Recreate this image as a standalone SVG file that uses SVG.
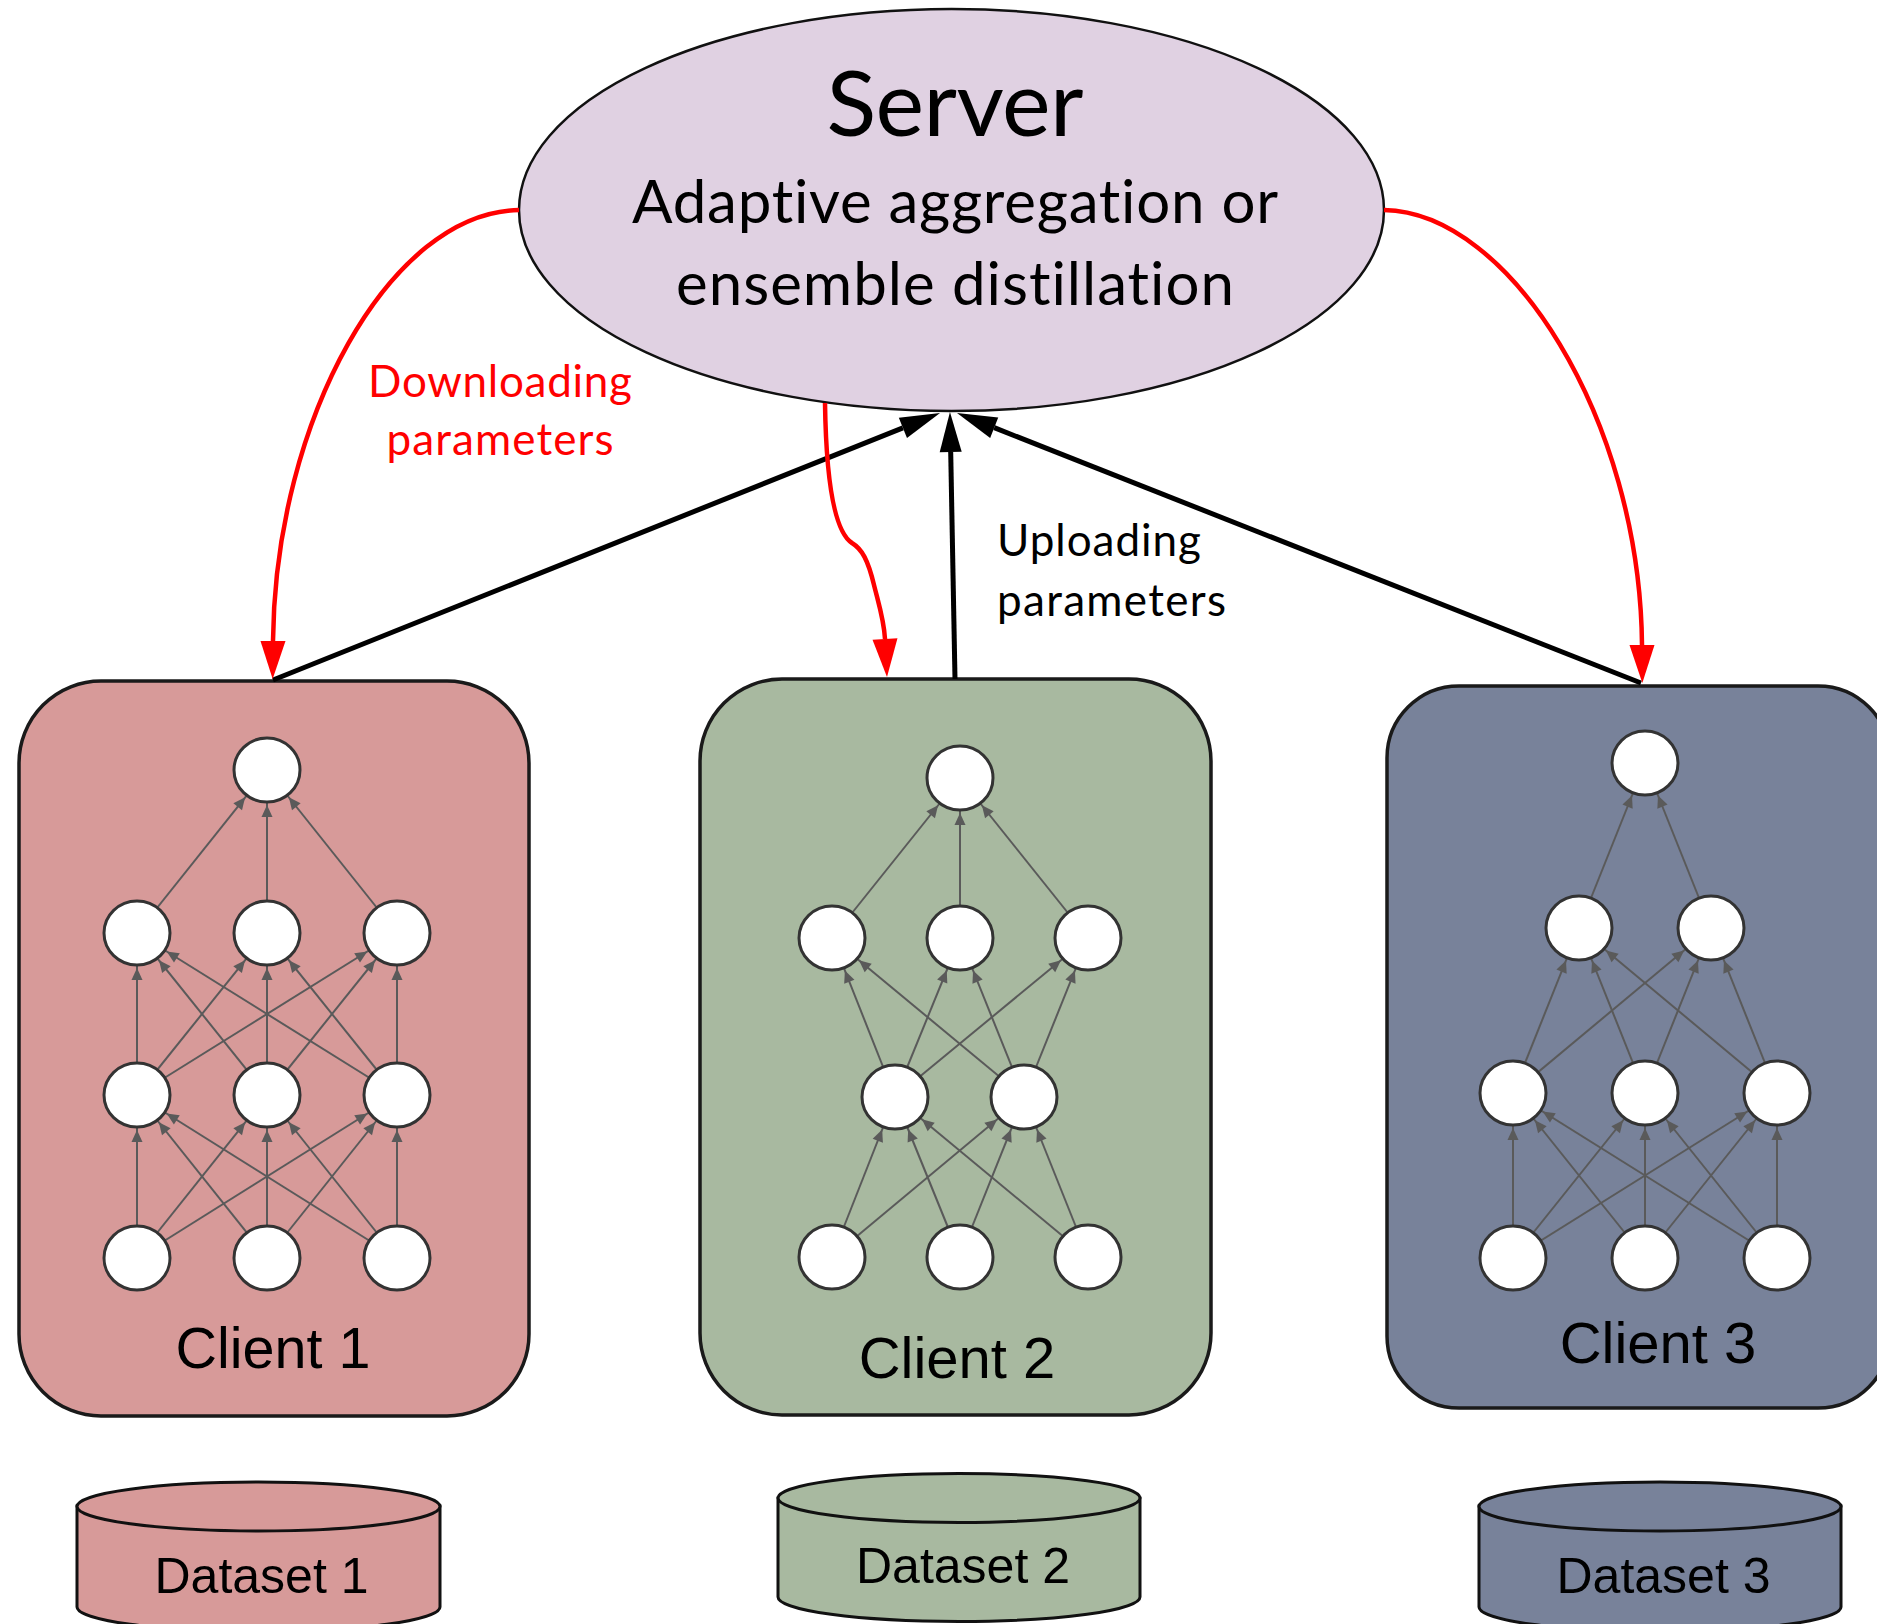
<svg xmlns="http://www.w3.org/2000/svg" width="1877" height="1624" viewBox="0 0 1877 1624">
<style>
.cal{font-family:Lato,"Open Sans","Liberation Sans",sans-serif;font-variant-ligatures:none;font-feature-settings:"liga" 0,"dlig" 0}
.ar{font-family:"Liberation Sans",Arial,sans-serif}
.box{stroke:#1a1a1a;stroke-width:3.5}
.n{fill:#fff;stroke:#333;stroke-width:3}
.e{stroke:#5a5a5a;stroke-width:2;marker-end:url(#sa)}
.cyl{stroke:#111;stroke-width:3}
.c1{fill:#D79A99}.c2{fill:#A8B9A0}.c3{fill:#78829A}
.red{fill:none;stroke:#ff0000;stroke-width:4.5;marker-end:url(#ra)}
.blk{fill:none;stroke:#000;stroke-width:5;marker-end:url(#ba)}
</style>
<defs>
<marker id="sa" markerUnits="userSpaceOnUse" markerWidth="60" markerHeight="20" viewBox="-50 -10 60 20" refX="0" refY="0" orient="auto">
<path d="M-35,0 L-47,-5.5 L-47,5.5 Z" fill="#5a5a5a"/>
</marker>
<marker id="ra" markerUnits="userSpaceOnUse" markerWidth="45" markerHeight="30" viewBox="-2 -15 45 30" refX="0" refY="0" orient="auto">
<path d="M0,-12.5 L38,0 L0,12.5 Z" fill="#ff0000"/>
</marker>
<marker id="ba" markerUnits="userSpaceOnUse" markerWidth="45" markerHeight="30" viewBox="-2 -15 45 30" refX="0" refY="0" orient="auto">
<path d="M0,-11 L40,0 L0,11 Z" fill="#000"/>
</marker>
</defs>
<rect width="1877" height="1624" fill="#fff"/>

<g id="server">
<ellipse cx="951.5" cy="210" rx="432.5" ry="201" fill="#E0D1E2" stroke="#111" stroke-width="2.5"/>
<text class="cal" x="955" y="136" font-size="92" text-anchor="middle" textLength="257" lengthAdjust="spacing">Server</text>
<text class="cal" x="955" y="223" font-size="60" text-anchor="middle" textLength="646" lengthAdjust="spacing">Adaptive aggregation or</text>
<text class="cal" x="955" y="305" font-size="60" text-anchor="middle" textLength="558" lengthAdjust="spacing">ensemble distillation</text>
</g>

<g id="client1">
<rect class="box c1" x="19" y="681" width="510" height="735" rx="82" ry="82"/>
<line class="e" x1="137" y1="1258" x2="137" y2="1095"/>
<line class="e" x1="137" y1="1258" x2="267" y2="1095"/>
<line class="e" x1="137" y1="1258" x2="397" y2="1095"/>
<line class="e" x1="267" y1="1258" x2="137" y2="1095"/>
<line class="e" x1="267" y1="1258" x2="267" y2="1095"/>
<line class="e" x1="267" y1="1258" x2="397" y2="1095"/>
<line class="e" x1="397" y1="1258" x2="137" y2="1095"/>
<line class="e" x1="397" y1="1258" x2="267" y2="1095"/>
<line class="e" x1="397" y1="1258" x2="397" y2="1095"/>
<line class="e" x1="137" y1="1095" x2="137" y2="933"/>
<line class="e" x1="137" y1="1095" x2="267" y2="933"/>
<line class="e" x1="137" y1="1095" x2="397" y2="933"/>
<line class="e" x1="267" y1="1095" x2="137" y2="933"/>
<line class="e" x1="267" y1="1095" x2="267" y2="933"/>
<line class="e" x1="267" y1="1095" x2="397" y2="933"/>
<line class="e" x1="397" y1="1095" x2="137" y2="933"/>
<line class="e" x1="397" y1="1095" x2="267" y2="933"/>
<line class="e" x1="397" y1="1095" x2="397" y2="933"/>
<line class="e" x1="137" y1="933" x2="267" y2="770"/>
<line class="e" x1="267" y1="933" x2="267" y2="770"/>
<line class="e" x1="397" y1="933" x2="267" y2="770"/>
<ellipse class="n" cx="267" cy="770" rx="33" ry="32"/>
<ellipse class="n" cx="137" cy="933" rx="33" ry="32"/>
<ellipse class="n" cx="267" cy="933" rx="33" ry="32"/>
<ellipse class="n" cx="397" cy="933" rx="33" ry="32"/>
<ellipse class="n" cx="137" cy="1095" rx="33" ry="32"/>
<ellipse class="n" cx="267" cy="1095" rx="33" ry="32"/>
<ellipse class="n" cx="397" cy="1095" rx="33" ry="32"/>
<ellipse class="n" cx="137" cy="1258" rx="33" ry="32"/>
<ellipse class="n" cx="267" cy="1258" rx="33" ry="32"/>
<ellipse class="n" cx="397" cy="1258" rx="33" ry="32"/>
<text class="ar" x="273" y="1368" font-size="57.5" text-anchor="middle">Client 1</text>
</g>

<g id="client2">
<rect class="box c2" x="700" y="679" width="511" height="736" rx="82" ry="82"/>
<line class="e" x1="832" y1="1257" x2="895" y2="1097"/>
<line class="e" x1="832" y1="1257" x2="1024" y2="1097"/>
<line class="e" x1="960" y1="1257" x2="895" y2="1097"/>
<line class="e" x1="960" y1="1257" x2="1024" y2="1097"/>
<line class="e" x1="1088" y1="1257" x2="895" y2="1097"/>
<line class="e" x1="1088" y1="1257" x2="1024" y2="1097"/>
<line class="e" x1="895" y1="1097" x2="832" y2="938"/>
<line class="e" x1="895" y1="1097" x2="960" y2="938"/>
<line class="e" x1="895" y1="1097" x2="1088" y2="938"/>
<line class="e" x1="1024" y1="1097" x2="832" y2="938"/>
<line class="e" x1="1024" y1="1097" x2="960" y2="938"/>
<line class="e" x1="1024" y1="1097" x2="1088" y2="938"/>
<line class="e" x1="832" y1="938" x2="960" y2="778"/>
<line class="e" x1="960" y1="938" x2="960" y2="778"/>
<line class="e" x1="1088" y1="938" x2="960" y2="778"/>
<ellipse class="n" cx="960" cy="778" rx="33" ry="32"/>
<ellipse class="n" cx="832" cy="938" rx="33" ry="32"/>
<ellipse class="n" cx="960" cy="938" rx="33" ry="32"/>
<ellipse class="n" cx="1088" cy="938" rx="33" ry="32"/>
<ellipse class="n" cx="895" cy="1097" rx="33" ry="32"/>
<ellipse class="n" cx="1024" cy="1097" rx="33" ry="32"/>
<ellipse class="n" cx="832" cy="1257" rx="33" ry="32"/>
<ellipse class="n" cx="960" cy="1257" rx="33" ry="32"/>
<ellipse class="n" cx="1088" cy="1257" rx="33" ry="32"/>
<text class="ar" x="957" y="1378" font-size="58" text-anchor="middle">Client 2</text>
</g>

<g id="client3">
<rect class="box c3" x="1387" y="686" width="503" height="722" rx="72" ry="72"/>
<line class="e" x1="1513" y1="1258" x2="1513" y2="1093"/>
<line class="e" x1="1513" y1="1258" x2="1645" y2="1093"/>
<line class="e" x1="1513" y1="1258" x2="1777" y2="1093"/>
<line class="e" x1="1645" y1="1258" x2="1513" y2="1093"/>
<line class="e" x1="1645" y1="1258" x2="1645" y2="1093"/>
<line class="e" x1="1645" y1="1258" x2="1777" y2="1093"/>
<line class="e" x1="1777" y1="1258" x2="1513" y2="1093"/>
<line class="e" x1="1777" y1="1258" x2="1645" y2="1093"/>
<line class="e" x1="1777" y1="1258" x2="1777" y2="1093"/>
<line class="e" x1="1513" y1="1093" x2="1579" y2="928"/>
<line class="e" x1="1513" y1="1093" x2="1711" y2="928"/>
<line class="e" x1="1645" y1="1093" x2="1579" y2="928"/>
<line class="e" x1="1645" y1="1093" x2="1711" y2="928"/>
<line class="e" x1="1777" y1="1093" x2="1579" y2="928"/>
<line class="e" x1="1777" y1="1093" x2="1711" y2="928"/>
<line class="e" x1="1579" y1="928" x2="1645" y2="763"/>
<line class="e" x1="1711" y1="928" x2="1645" y2="763"/>
<ellipse class="n" cx="1645" cy="763" rx="33" ry="32"/>
<ellipse class="n" cx="1579" cy="928" rx="33" ry="32"/>
<ellipse class="n" cx="1711" cy="928" rx="33" ry="32"/>
<ellipse class="n" cx="1513" cy="1093" rx="33" ry="32"/>
<ellipse class="n" cx="1645" cy="1093" rx="33" ry="32"/>
<ellipse class="n" cx="1777" cy="1093" rx="33" ry="32"/>
<ellipse class="n" cx="1513" cy="1258" rx="33" ry="32"/>
<ellipse class="n" cx="1645" cy="1258" rx="33" ry="32"/>
<ellipse class="n" cx="1777" cy="1258" rx="33" ry="32"/>
<text class="ar" x="1658" y="1363" font-size="58" text-anchor="middle">Client 3</text>
</g>

<g id="dataset1">
<path class="cyl c1" d="M77,1506 L77,1607 A181.5,24.5 0 0 0 440,1607 L440,1506 Z"/>
<ellipse class="cyl c1" cx="258.5" cy="1506.5" rx="181.5" ry="24.5"/>
<text class="ar" x="261.5" y="1593" font-size="50" text-anchor="middle">Dataset 1</text>
</g>
<g id="dataset2">
<path class="cyl c2" d="M778,1498 L778,1597 A181,24.5 0 0 0 1140,1597 L1140,1498 Z"/>
<ellipse class="cyl c2" cx="959" cy="1498" rx="181" ry="24.5"/>
<text class="ar" x="963" y="1583" font-size="50" text-anchor="middle">Dataset 2</text>
</g>
<g id="dataset3">
<path class="cyl c3" d="M1479,1506 L1479,1607 A181,24.5 0 0 0 1841,1607 L1841,1506 Z"/>
<ellipse class="cyl c3" cx="1660" cy="1506.5" rx="181" ry="24.5"/>
<text class="ar" x="1663.5" y="1593" font-size="50" text-anchor="middle">Dataset 3</text>
</g>

<g id="connectors">
<line class="blk" x1="273" y1="680" x2="902.9" y2="427.9"/>
<line class="blk" x1="955" y1="679" x2="950.7" y2="452"/>
<line class="blk" x1="1641" y1="683" x2="994.2" y2="427.7"/>
<path class="red" d="M519,210 C390,212 275,420 273,641"/>
<path class="red" d="M1384,210 C1510,212 1640,420 1642,645"/>
<path class="red" d="M825,403 C826,470 832,530 852,543 C862,549 868,560 874,585 C879,605 884,620 885,639"/>
<text class="cal" x="500" y="397" font-size="44" text-anchor="middle" fill="#ff0000" textLength="264" lengthAdjust="spacing">Downloading</text>
<text class="cal" x="500" y="455" font-size="44" text-anchor="middle" fill="#ff0000" textLength="227" lengthAdjust="spacing">parameters</text>
<text class="cal" x="997" y="556" font-size="44" textLength="204" lengthAdjust="spacing">Uploading</text>
<text class="cal" x="997" y="616" font-size="44" textLength="229" lengthAdjust="spacing">parameters</text>
</g>
</svg>
